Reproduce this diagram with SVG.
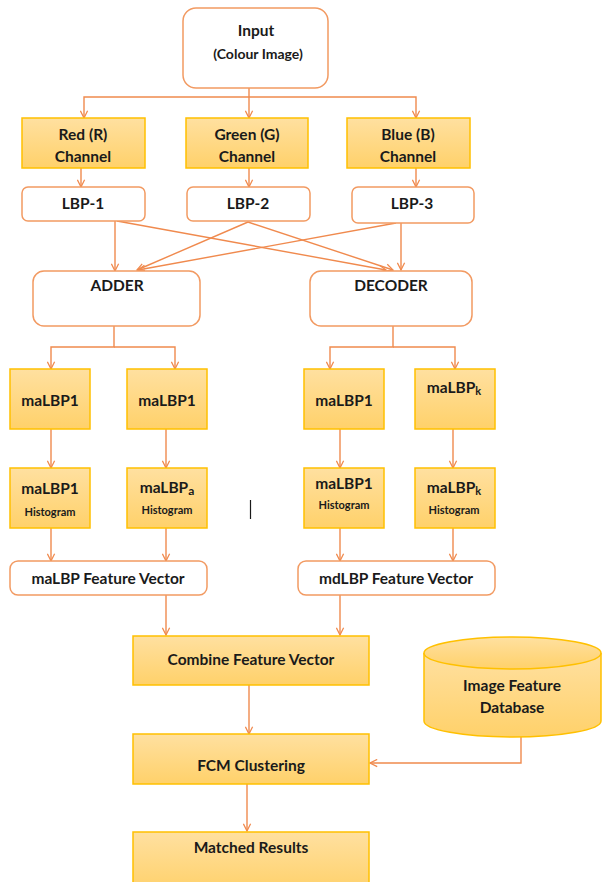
<svg xmlns="http://www.w3.org/2000/svg" width="602" height="882" viewBox="0 0 602 882">
<defs>
<linearGradient id="yg" x1="0" y1="0" x2="0" y2="1">
<stop offset="0" stop-color="#FFE0A0"/>
<stop offset="1" stop-color="#FFD16A"/>
</linearGradient>
<marker id="ah" viewBox="0 0 10 10" refX="9" refY="5" markerWidth="9" markerHeight="9" orient="auto" markerUnits="userSpaceOnUse">
<path d="M1,1 L9,5 L1,9" fill="none" stroke="#F08A4E" stroke-width="1.4"/>
</marker>
</defs>
<style>
.w{fill:#fff;stroke:#F29A62;stroke-width:1.5}
.y{fill:url(#yg);stroke:#FFC000;stroke-width:1.5}
.c{fill:none;stroke:#F08A4E;stroke-width:1.4}
.a{marker-end:url(#ah)}
text{font-family:Lato,"Liberation Sans",sans-serif;font-weight:bold;fill:#1a1a1a;text-anchor:middle;dominant-baseline:central}
.t{font-size:15.5px}
.s{font-size:14px}
.h{font-size:11px}
</style>
<g id="connectors">
<path class="c a" d="M249,88 V118"/>
<path class="c a" d="M249,97 H84 V118"/>
<path class="c a" d="M249,97 H416 V118"/>
<path class="c a" d="M81,168 V187"/>
<path class="c a" d="M249,168 V187"/>
<path class="c a" d="M416,168 V187"/>
<path class="c a" d="M115,221 V271"/>
<path class="c a" d="M117,221 L386,270"/>
<path class="c a" d="M248,222 L137,270"/>
<path class="c a" d="M248,222 L393,270"/>
<path class="c a" d="M396,223 L138,270"/>
<path class="c a" d="M401,223 V270"/>
<path class="c a" d="M114,326 V347 H51 V369"/>
<path class="c a" d="M114,347 H175 V369"/>
<path class="c a" d="M393,326 V347 H330 V369"/>
<path class="c a" d="M393,347 H455 V369"/>
<path class="c a" d="M51,429 V468"/>
<path class="c a" d="M166,429 V468"/>
<path class="c a" d="M340,429 V468"/>
<path class="c a" d="M453,429 V468"/>
<path class="c a" d="M51,528 V561"/>
<path class="c a" d="M166,528 V561"/>
<path class="c a" d="M340,528 V561"/>
<path class="c a" d="M453,528 V561"/>
<path class="c a" d="M166,595 V635"/>
<path class="c a" d="M340,595 V635"/>
<path class="c a" d="M249,685 V734"/>
<path class="c a" d="M247,784 V831"/>
<path class="c a" d="M521,737 V763 H370"/>
</g>
<g id="input"><rect class="w" x="183" y="8" width="145" height="80" rx="13"/><text class="t" x="256" y="30">Input</text><text class="s" x="258" y="53">(Colour Image)</text></g>
<g id="red"><rect class="y" x="22" y="118" width="123" height="50"/><text class="t" x="83" y="134">Red (R)</text><text class="t" x="83" y="156">Channel</text></g>
<g id="green"><rect class="y" x="186" y="118" width="122" height="50"/><text class="t" x="247" y="134">Green (G)</text><text class="t" x="247" y="156">Channel</text></g>
<g id="blue"><rect class="y" x="347" y="118" width="123" height="50"/><text class="t" x="408" y="134">Blue (B)</text><text class="t" x="408" y="156">Channel</text></g>
<g id="lbp1"><rect class="w" x="22" y="187" width="123" height="34" rx="6"/><text class="t" x="83" y="203">LBP-1</text></g>
<g id="lbp2"><rect class="w" x="187" y="187" width="123" height="34" rx="6"/><text class="t" x="248" y="203">LBP-2</text></g>
<g id="lbp3"><rect class="w" x="352" y="187" width="122" height="36" rx="6"/><text class="t" x="412" y="203">LBP-3</text></g>
<g id="adder"><rect class="w" x="33" y="271" width="167" height="55" rx="11"/><text class="t" x="117" y="285">ADDER</text></g>
<g id="decoder"><rect class="w" x="310" y="271" width="162" height="55" rx="11"/><text class="t" x="391" y="285">DECODER</text></g>
<g id="malbp1a"><rect class="y" x="10" y="369" width="80" height="60"/><text class="t" x="50" y="400">maLBP1</text></g>
<g id="malbp1b"><rect class="y" x="127" y="369" width="80" height="60"/><text class="t" x="167" y="400">maLBP1</text></g>
<g id="malbp1c"><rect class="y" x="304" y="369" width="80" height="60"/><text class="t" x="344" y="400">maLBP1</text></g>
<g id="malbpk"><rect class="y" x="415" y="369" width="80" height="60"/><text class="t" x="454" y="387">maLBP<tspan font-size="11" dy="3">k</tspan></text></g>
<g id="hist1"><rect class="y" x="10" y="468" width="80" height="60"/><text class="t" x="50" y="488">maLBP1</text><text class="h" x="50" y="511">Histogram</text></g>
<g id="hista"><rect class="y" x="127" y="468" width="80" height="60"/><text class="t" x="167" y="487">maLBP<tspan font-size="12" dy="3">a</tspan></text><text class="h" x="167" y="509">Histogram</text></g>
<g id="hist1d"><rect class="y" x="304" y="468" width="80" height="60"/><text class="t" x="344" y="483">maLBP1</text><text class="h" x="344" y="504">Histogram</text></g>
<g id="histk"><rect class="y" x="415" y="468" width="80" height="60"/><text class="t" x="454" y="487">maLBP<tspan font-size="11" dy="3">k</tspan></text><text class="h" x="454" y="509">Histogram</text></g>
<g id="cursor"><line x1="250.5" y1="500" x2="250.5" y2="519" stroke="#1a1a1a" stroke-width="1.2"/></g>
<g id="mafv"><rect class="w" x="10" y="561" width="197" height="34" rx="8"/><text class="t" x="108" y="578">maLBP Feature Vector</text></g>
<g id="mdfv"><rect class="w" x="298" y="561" width="197" height="34" rx="8"/><text class="t" x="396" y="578">mdLBP Feature Vector</text></g>
<g id="combine"><rect class="y" x="133" y="636" width="236" height="49"/><text class="t" x="251" y="659">Combine Feature Vector</text></g>
<g id="db"><path class="y" d="M424,653 V721 A88.5,16 0 0,0 601,721 V653"/><ellipse class="y" cx="512.5" cy="653" rx="88.5" ry="16"/><text class="t" x="512" y="685">Image Feature</text><text class="t" x="512" y="707">Database</text></g>
<g id="fcm"><rect class="y" x="133" y="734" width="236" height="50"/><text class="t" x="251" y="765">FCM Clustering</text></g>
<g id="matched"><rect class="y" x="133" y="832" width="236" height="60"/><text class="t" x="251" y="847">Matched Results</text></g>
</svg>
